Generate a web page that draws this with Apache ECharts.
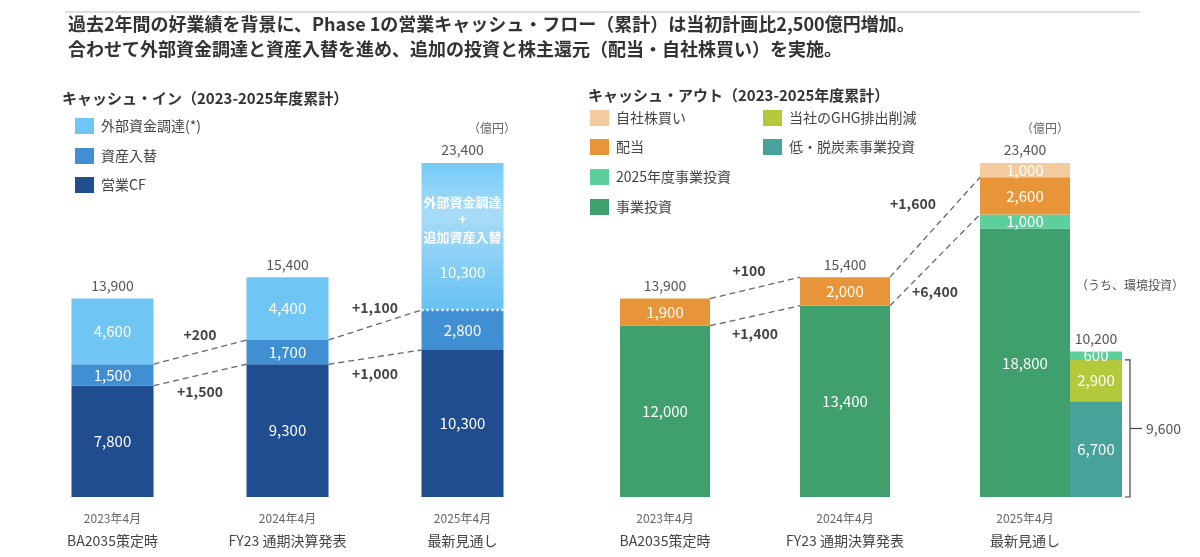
<!DOCTYPE html>
<html>
<head>
<meta charset="UTF-8">
<script src="https://cdn.jsdelivr.net/npm/echarts@6/dist/echarts.min.js"></script>
<style>
  html, body { margin: 0; padding: 0; background: #fff; }
  #main { width: 1200px; height: 557px; }
</style>
</head>
<body>
<div id="main"></div>
<script>
// ---- data ----
var inCats = ['2023年4月\nBA2035策定時', '2024年4月\nFY23 通期決算発表', '2025年4月\n最新見通し'];
var inOpCF = [7800, 9300, 10300];
var inAsset = [1500, 1700, 2800];
var inExternal = [4600, 4400, 10300];
var inTotals = [13900, 15400, 23400];

var outBiz = [12000, 13400, 18800];
var out2025 = [null, null, 1000];
var outDividend = [1900, 2000, 2600];
var outBuyback = [null, null, 1000];
var outTotals = [13900, 15400, 23400];
var envLowCarbon = [null, null, 6700];
var envGHG = [null, null, 2900];
var env2025 = [null, null, 600];
var envTotal = 10200;
var envSum = 9600;

var FONT = '"Noto Sans CJK JP", "Noto Sans", sans-serif';
var C = {
  op: '#1f4d8f', asset: '#3f8fd2', ext: '#6fc6f4',
  biz: '#3f9f6d', y2025: '#5ccf9c', div: '#e8953a', buy: '#f4cb9e',
  low: '#47a39a', ghg: '#b3c83a'
};
function fmt(v) { return v.toLocaleString('en-US'); }

var inLabel = { show: true, color: '#fff', fontSize: 15, fontFamily: FONT,
  formatter: function (p) { return p.value == null ? '' : fmt(p.value); } };

var chart = echarts.init(document.getElementById('main'));
var option = {
  animation: false,
  grid: [
    { left: 25, width: 525, top: 163, bottom: 60 },
    { left: 601, width: 540, top: 163, bottom: 60 }
  ],
  xAxis: [
    { type: 'category', gridIndex: 0, data: inCats, axisLine: { show: false }, axisTick: { show: false }, axisLabel: { show: false } },
    { type: 'category', gridIndex: 1, data: inCats, axisLine: { show: false }, axisTick: { show: false }, axisLabel: { show: false } }
  ],
  yAxis: [
    { type: 'value', gridIndex: 0, min: 0, max: 23400, show: false },
    { type: 'value', gridIndex: 1, min: 0, max: 23400, show: false }
  ],
  series: [
    { name: '営業CF', type: 'bar', stack: 'in', barWidth: 82, data: inOpCF, itemStyle: { color: C.op }, label: inLabel },
    { name: '資産入替', type: 'bar', stack: 'in', barWidth: 82, data: inAsset, itemStyle: { color: C.asset }, label: inLabel },
    { name: '外部資金調達', type: 'bar', stack: 'in', barWidth: 82,
      data: [inExternal[0], inExternal[1], { value: inExternal[2],
        label: { offset: [0, 36] },
        itemStyle: { color: new echarts.graphic.LinearGradient(0, 0, 0, 1, [
        { offset: 0, color: '#74caf6' }, { offset: 0.35, color: '#a8dcf8' }, { offset: 1, color: '#66c1f2' }]) } }],
      itemStyle: { color: C.ext }, label: inLabel },

    { name: '事業投資', type: 'bar', stack: 'out', xAxisIndex: 1, yAxisIndex: 1, barWidth: 90, barGap: '0%', data: outBiz, itemStyle: { color: C.biz }, label: inLabel },
    { name: '2025年度事業投資', type: 'bar', stack: 'out', xAxisIndex: 1, yAxisIndex: 1, barWidth: 90, barGap: '0%', data: out2025, itemStyle: { color: C.y2025 }, label: inLabel },
    { name: '配当', type: 'bar', stack: 'out', xAxisIndex: 1, yAxisIndex: 1, barWidth: 90, barGap: '0%', data: outDividend, itemStyle: { color: C.div }, label: inLabel },
    { name: '自社株買い', type: 'bar', stack: 'out', xAxisIndex: 1, yAxisIndex: 1, barWidth: 90, barGap: '0%', data: outBuyback, itemStyle: { color: C.buy }, label: inLabel },

    { name: '低・脱炭素事業投資', type: 'bar', stack: 'env', xAxisIndex: 1, yAxisIndex: 1, barWidth: 52, barGap: '0%', data: envLowCarbon, itemStyle: { color: C.low }, label: inLabel },
    { name: '当社のGHG排出削減', type: 'bar', stack: 'env', xAxisIndex: 1, yAxisIndex: 1, barWidth: 52, barGap: '0%', data: envGHG, itemStyle: { color: C.ghg }, label: inLabel },
    { name: '環境2025', type: 'bar', stack: 'env', xAxisIndex: 1, yAxisIndex: 1, barWidth: 52, barGap: '0%', data: env2025, itemStyle: { color: C.y2025 }, label: inLabel }
  ]
};
chart.setOption(option);

// ---- annotations, placed through the chart's own scales ----
function px(g, i, v, dx) {
  var p = chart.convertToPixel({ gridIndex: g }, [i, v]);
  return [p[0] + (dx || 0), p[1]];
}
function txt(x, y, s, o) {
  o = o || {};
  return { type: 'text', z: 10, style: { x: x, y: y, text: s, fill: o.fill || '#444',
    font: (o.bold ? 'bold ' : '') + (o.size || 14) + 'px ' + FONT,
    textAlign: o.align || 'center', textVerticalAlign: 'middle' } };
}
function dash(a, b) {
  return { type: 'line', z: 5, shape: { x1: a[0], y1: a[1], x2: b[0], y2: b[1] },
    style: { stroke: '#666', lineWidth: 1.3, lineDash: [6, 4] } };
}
var g = [];
// header
g.push({ type: 'line', shape: { x1: 65, y1: 12, x2: 1140, y2: 12 }, style: { stroke: '#bbb', lineWidth: 1 } });
g.push(txt(68, 24, '過去2年間の好業績を背景に、Phase 1の営業キャッシュ・フロー（累計）は当初計画比2,500億円増加。', { bold: true, size: 18, align: 'left', fill: '#333' }));
g.push(txt(68, 49, '合わせて外部資金調達と資産入替を進め、追加の投資と株主還元（配当・自社株買い）を実施。', { bold: true, size: 18, align: 'left', fill: '#333' }));
g.push(txt(62, 98, 'キャッシュ・イン（2023-2025年度累計）', { bold: true, size: 15, align: 'left', fill: '#333' }));
g.push(txt(588, 95, 'キャッシュ・アウト（2023-2025年度累計）', { bold: true, size: 15, align: 'left', fill: '#333' }));
g.push(txt(492, 128, '（億円）', { size: 12, fill: '#666' }));
g.push(txt(1045, 128, '（億円）', { size: 12, fill: '#666' }));

// legends
function leg(x, y, color, s) {
  g.push({ type: 'rect', shape: { x: x, y: y - 8, width: 19, height: 16 }, style: { fill: color } });
  g.push(txt(x + 26, y, s, { size: 14, align: 'left', fill: '#444' }));
}
leg(75, 126, C.ext, '外部資金調達(*)');
leg(75, 156, C.asset, '資産入替');
leg(75, 185, C.op, '営業CF');
leg(590, 118, C.buy, '自社株買い');
leg(590, 147, C.div, '配当');
leg(590, 177, C.y2025, '2025年度事業投資');
leg(590, 207, C.biz, '事業投資');
leg(763, 118, C.ghg, '当社のGHG排出削減');
leg(763, 147, C.low, '低・脱炭素事業投資');

// category labels and totals
var OFF = -26, HALF_IN = 41, HALF_OUT = 45;
for (var i = 0; i < 3; i++) {
  var parts = inCats[i].split('\n');
  var a = px(0, i, 0, 0), b = px(1, i, 0, OFF);
  g.push(txt(a[0], 518, parts[0], { size: 12, fill: '#666' }));
  g.push(txt(a[0], 541, parts[1], { size: 14, fill: '#444' }));
  g.push(txt(b[0], 518, parts[0], { size: 12, fill: '#666' }));
  g.push(txt(b[0], 541, parts[1], { size: 14, fill: '#444' }));
  var t1 = px(0, i, inTotals[i], 0), t2 = px(1, i, outTotals[i], OFF);
  g.push(txt(t1[0], t1[1] - 13, fmt(inTotals[i]), { size: 14, fill: '#555' }));
  g.push(txt(t2[0], t2[1] - 13, fmt(outTotals[i]), { size: 14, fill: '#555' }));
}

// left connectors
var inCum1 = [inOpCF[0], inOpCF[1], inOpCF[2]];
var inCum2 = [inOpCF[0] + inAsset[0], inOpCF[1] + inAsset[1], inOpCF[2] + inAsset[2]];
function conn(gi, i, v1, v2, half, off, label, lx, ly) {
  var p1 = px(gi, i, v1, off + half), p2 = px(gi, i + 1, v2, off - half);
  g.push(dash(p1, p2));
  g.push(txt((p1[0] + p2[0]) / 2 + lx, (p1[1] + p2[1]) / 2 + ly, label, { bold: true, size: 14, fill: '#444' }));
}
conn(0, 0, inCum2[0], inCum2[1], HALF_IN, 0, '+' + fmt(inAsset[1] - inAsset[0]), 0, -17);
conn(0, 0, inCum1[0], inCum1[1], HALF_IN, 0, '+' + fmt(inOpCF[1] - inOpCF[0]), 0, 17);
conn(0, 1, inCum2[1], inCum2[2], HALF_IN, 0, '+' + fmt(inAsset[2] - inAsset[1]), 0, -17);
conn(0, 1, inCum1[1], inCum1[2], HALF_IN, 0, '+' + fmt(inOpCF[2] - inOpCF[1]), 0, 17);

// dotted white line and text in 3rd left bar
var d1 = px(0, 2, inCum2[2], -HALF_IN), d2 = px(0, 2, inCum2[2], HALF_IN);
g.push({ type: 'line', z: 6, shape: { x1: d1[0], y1: d1[1], x2: d2[0], y2: d2[1] }, style: { stroke: '#fff', lineWidth: 2.5, lineDash: [2, 3] } });
var tt = px(0, 2, inTotals[2], 0);
g.push(txt(tt[0], tt[1] + 39, '外部資金調達', { bold: true, size: 13, fill: '#fff' }));
g.push(txt(tt[0], tt[1] + 56, '+', { bold: true, size: 13, fill: '#fff' }));
g.push(txt(tt[0], tt[1] + 74, '追加資産入替', { bold: true, size: 13, fill: '#fff' }));

// right connectors
conn(1, 0, outTotals[0], outTotals[1], HALF_OUT, OFF, '+' + fmt(outDividend[1] - outDividend[0]), -6, -17);
conn(1, 0, outBiz[0], outBiz[1], HALF_OUT, OFF, '+' + fmt(outBiz[1] - outBiz[0]), 0, 18);
conn(1, 1, outTotals[1], outBiz[2] + out2025[2] + outDividend[2], HALF_OUT, OFF, '+' + fmt(outDividend[2] + outBuyback[2] - outDividend[1]), -22, -24);
conn(1, 1, outBiz[1], outBiz[2] + out2025[2], HALF_OUT, OFF, '+' + fmt(outBiz[2] + out2025[2] - outBiz[1]), 0, 32);

// environment sub-bar notes
var e0 = px(1, 2, envTotal, 45), eb = px(1, 2, 0, 45), es = px(1, 2, envSum, 45);
g.push(txt(e0[0], e0[1] - 13, fmt(envTotal), { size: 14, fill: '#555' }));
g.push(txt(1130, 285, '（うち、環境投資）', { size: 12, fill: '#555' }));
var bx = e0[0] + 34;
g.push({ type: 'polyline', shape: { points: [[bx - 5, es[1]], [bx, es[1]], [bx, eb[1]], [bx - 5, eb[1]]] }, style: { stroke: '#444', fill: null, lineWidth: 1.2 } });
g.push({ type: 'line', shape: { x1: bx, y1: (es[1] + eb[1]) / 2, x2: bx + 12, y2: (es[1] + eb[1]) / 2 }, style: { stroke: '#444', lineWidth: 1.2 } });
g.push(txt(bx + 16, (es[1] + eb[1]) / 2, fmt(envSum), { size: 14, align: 'left', fill: '#555' }));

chart.setOption({ graphic: g });
</script>
</body>
</html>
